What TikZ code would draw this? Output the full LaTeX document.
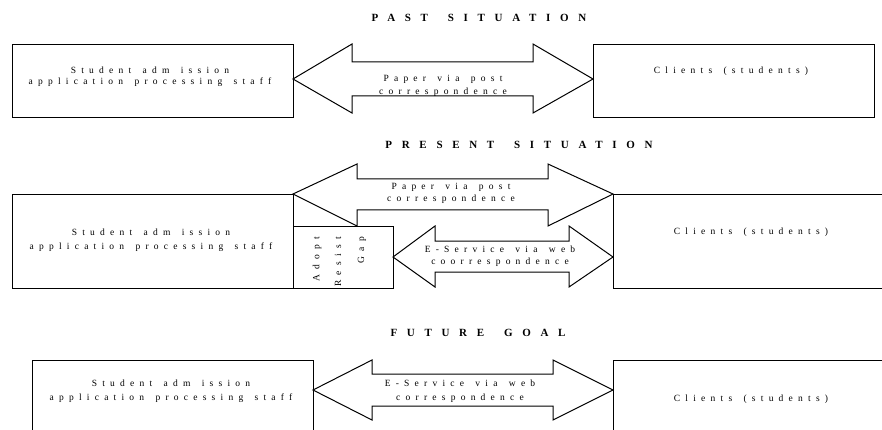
\documentclass[tikz,border=0pt]{standalone}
\usepackage{fontspec}
\setmainfont{Liberation Serif}
\newfontfamily\lblfont[LetterSpace=55,WordSpace=1.5]{Liberation Serif}
\newfontfamily\ttlfont[LetterSpace=88,WordSpace=1.6]{Liberation Serif}
\begin{document}
\begin{tikzpicture}[x=1pt,y=-1pt,line join=miter,
  box/.style={draw,line width=1pt,inner sep=0pt,anchor=north west},
  blk/.style={draw,fill=white,line width=1pt},
  lbl/.style={align=center,inner sep=0pt,font={\lblfont\fontsize{9.5}{#1}\selectfont}},
  lbl/.default=12,
  ttl/.style={inner sep=0pt,font={\ttlfont\bfseries\fontsize{11}{13}\selectfont}},
  rot/.style={inner sep=0pt,rotate=90,anchor=east,font={\lblfont\fontsize{9.5}{11}\selectfont}}]
\useasboundingbox (0,0) rectangle (882,430);

% ---------- PAST ----------
\node[ttl] (t1) at (479,18) {PAST SITUATION};
\node[box,minimum width=281pt,minimum height=73pt] (pstaff) at (12,44) {};
\node[box,minimum width=281pt,minimum height=73pt] (pcli) at (593,44) {};
\draw[blk] (293,79) -- (352,44) -- (352,62) -- (533,62) -- (533,44) -- (593,79)
  -- (533,113) -- (533,96) -- (352,96) -- (352,113) -- cycle;
\node[lbl=11] (pstafft) at (150,76.5) {Student adm ission\\application processing staff};
\node[lbl=13] (parrt) at (443,85.5) {Paper via post\\correspondence};
\node[lbl] (pclit) at (731,71) {Clients (students)};

% ---------- PRESENT ----------
\node[ttl] (t2) at (519,145) {PRESENT SITUATION};
\node[box,minimum width=281pt,minimum height=94pt] (nstaff) at (12,194) {};
\node[box,minimum width=100pt,minimum height=62pt] (ngap) at (293,226) {};
\node[box,minimum width=280pt,minimum height=94pt] (ncli) at (613,194) {};
\draw[blk] (293,194) -- (357,164) -- (357,179) -- (548,179) -- (548,164) -- (613,194)
  -- (548,226) -- (548,210) -- (357,210) -- (357,226) -- cycle;
\draw[blk] (393,257) -- (435,226) -- (435,241) -- (569,241) -- (569,226) -- (613,257)
  -- (569,287) -- (569,272) -- (435,272) -- (435,287) -- cycle;
\node[lbl=14] (nstafft) at (151,240) {Student adm ission\\application processing staff};
\node[lbl=12] (npapt) at (451,193) {Paper via post\\correspondence};
\node[lbl=12] (newebt) at (500,256) {E-Service via web\\coorrespondence};
\node[lbl] (nclit) at (751,232) {Clients (students)};
\node[rot] (ga) at (317,237) {Adopt};
\node[rot] (gr) at (338,237) {Resist};
\node[rot] (gg) at (362,237) {Gap};

% ---------- FUTURE ----------
\node[ttl] (t3) at (478,333) {FUTURE GOAL};
\node[box,minimum width=281pt,minimum height=90pt] (fstaff) at (32,360) {};
\node[box,minimum width=280pt,minimum height=90pt] (fcli) at (613,360) {};
\draw[blk] (313,390) -- (372,360) -- (372,374) -- (553,374) -- (553,360) -- (613,390)
  -- (553,420) -- (553,406) -- (372,406) -- (372,420) -- cycle;
\node[lbl=14] (fstafft) at (171,391) {Student adm ission\\application processing staff};
\node[lbl=14] (farrt) at (460,391) {E-Service via web\\correspondence};
\node[lbl] (fclit) at (751,399) {Clients (students)};
\end{tikzpicture}
\end{document}
